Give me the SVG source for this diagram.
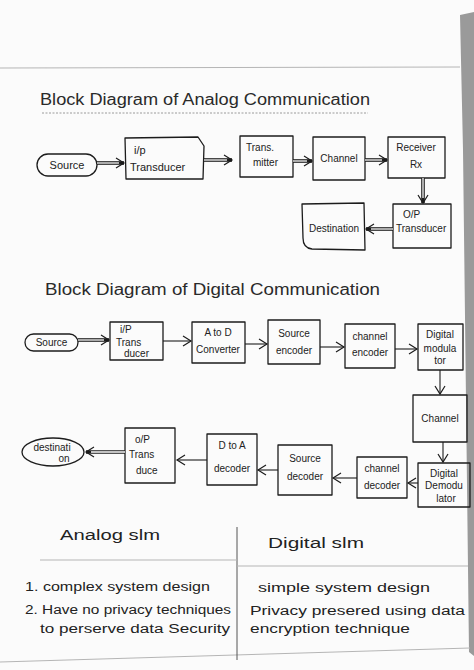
<svg xmlns="http://www.w3.org/2000/svg" width="474" height="670" viewBox="0 0 474 670">
<style>
.bx{fill:none;stroke:#1c1c1c;stroke-width:1.3;stroke-linejoin:round}
.t{font-family:"Liberation Sans","DejaVu Sans",sans-serif;fill:#222;font-size:10px}
.c{text-anchor:middle}
.ttl{font-size:16px;fill:#2a2a2a}
.tb{font-size:12px}
.ln{stroke:#1c1c1c;stroke-width:1.1;fill:none}
.dk{stroke:#1c1c1c;stroke-width:3.6;fill:none}
.wh{stroke:#fbfbfb;stroke-width:1.3;fill:none}
.rule{stroke:#b5b5b5;stroke-width:1;fill:none}
</style>
<defs>
<marker id="ah" markerUnits="userSpaceOnUse" markerWidth="12" markerHeight="12" refX="8" refY="5" orient="auto" overflow="visible">
<path d="M0,0 L8,5 L0,10" fill="none" stroke="#1c1c1c" stroke-width="1.2"/>
</marker>
</defs>
<rect x="0" y="0" width="474" height="670" fill="#fbfbfb"/>
<polygon points="460,15 474,12 474,656 469,652 466,400 463,150" fill="#9a9a9a"/>
<line class="rule" x1="0" y1="68" x2="460" y2="67"/>
<line class="rule" x1="0" y1="662" x2="470" y2="648" stroke="#999"/>

<text class="t ttl" x="40" y="105" textLength="330" lengthAdjust="spacingAndGlyphs">Block Diagram of Analog Communication</text>
<line x1="42" y1="113" x2="368" y2="113" stroke="#9a9a9a" stroke-width="1" stroke-dasharray="2,1.5"/>

<g id="a-source"><rect class="bx" x="37" y="154" width="60" height="22" rx="11"/><text class="t c" x="67" y="169" style="font-size:11px">Source</text></g>
<g id="a-ip-transducer"><path class="bx" d="M125,138 L198,137 L204,146 L203,179 L126,179 Z"/><text class="t" x="134" y="154" style="font-size:11px">i/p</text><text class="t" x="130" y="171" style="font-size:11px">Transducer</text></g>
<g id="a-transmitter"><rect class="bx" x="240" y="136" width="53" height="41"/><text class="t" x="246" y="151">Trans.</text><text class="t" x="253" y="166">mitter</text></g>
<g id="a-channel"><rect class="bx" x="313" y="137" width="52" height="43"/><text class="t c" x="339" y="162">Channel</text></g>
<g id="a-receiver"><rect class="bx" x="388" y="137" width="57" height="41"/><text class="t c" x="416" y="151">Receiver</text><text class="t c" x="416" y="168">Rx</text></g>
<g id="a-op-transducer"><rect class="bx" x="393" y="204" width="58" height="44"/><text class="t" x="403" y="218">O/P</text><text class="t" x="396" y="232">Transducer</text></g>
<g id="a-destination"><path class="bx" d="M302,204 L364,203 L365,250 L312,249 Q303,248 303,238 Z"/><text class="t" x="309" y="232">Destination</text></g>

<text class="t ttl" x="45" y="295" textLength="335" lengthAdjust="spacingAndGlyphs">Block Diagram of Digital Communication</text>

<g id="d-source"><rect class="bx" x="25" y="334" width="53" height="17" rx="8.5"/><text class="t c" x="51.5" y="346">Source</text></g>
<g id="d-ip-transducer"><rect class="bx" x="110" y="322" width="53" height="38"/><text class="t" x="120" y="333">i/P</text><text class="t" x="116" y="346">Trans</text><text class="t" x="124" y="357">ducer</text></g>
<g id="d-atod"><rect class="bx" x="192" y="322" width="53" height="41"/><text class="t c" x="218" y="336">A to D</text><text class="t c" x="218" y="353">Converter</text></g>
<g id="d-source-encoder"><rect class="bx" x="268" y="320" width="52" height="44"/><text class="t c" x="294" y="337">Source</text><text class="t c" x="294" y="354">encoder</text></g>
<g id="d-channel-encoder"><rect class="bx" x="345" y="324" width="50" height="44"/><text class="t c" x="370" y="340">channel</text><text class="t c" x="370" y="356">encoder</text></g>
<g id="d-modulator"><rect class="bx" x="418" y="324" width="45" height="46"/><text class="t c" x="440" y="338">Digital</text><text class="t c" x="440" y="352">modula</text><text class="t c" x="440" y="364">tor</text></g>
<g id="d-channel"><rect class="bx" x="413" y="395" width="54" height="47"/><text class="t c" x="440" y="422">Channel</text></g>
<g id="d-demodulator"><rect class="bx" x="418" y="463" width="52" height="44"/><text class="t c" x="444" y="477">Digital</text><text class="t c" x="444" y="489">Demodu</text><text class="t c" x="446" y="502">lator</text></g>
<g id="d-channel-decoder"><rect class="bx" x="357" y="457" width="50" height="41"/><text class="t c" x="382" y="472">channel</text><text class="t c" x="382" y="489">decoder</text></g>
<g id="d-source-decoder"><rect class="bx" x="278" y="445" width="54" height="50"/><text class="t c" x="305" y="462">Source</text><text class="t c" x="305" y="480">decoder</text></g>
<g id="d-dtoa"><rect class="bx" x="207" y="434" width="50" height="51"/><text class="t c" x="232" y="449">D to A</text><text class="t c" x="232" y="472">decoder</text></g>
<g id="d-op-transducer"><rect class="bx" x="125" y="428" width="50" height="55"/><text class="t" x="135" y="443">o/P</text><text class="t" x="129" y="458">Trans</text><text class="t" x="136" y="474">duce</text></g>
<g id="d-destination"><ellipse class="bx" cx="53" cy="452" rx="31" ry="14"/><text class="t c" x="52" y="451">destinati</text><text class="t c" x="64" y="462">on</text></g>

<g id="connectors">
<line class="dk" x1="97" y1="163" x2="124" y2="163" marker-end="url(#ah)"/><line class="wh" x1="97" y1="163" x2="119" y2="163"/>
<line class="dk" x1="204" y1="160" x2="232" y2="160" marker-end="url(#ah)"/><line class="wh" x1="204" y1="160" x2="227" y2="160"/>
<line class="dk" x1="293" y1="161" x2="312" y2="161" marker-end="url(#ah)"/><line class="wh" x1="293" y1="161" x2="307" y2="161"/>
<line class="dk" x1="365" y1="160" x2="387" y2="160" marker-end="url(#ah)"/><line class="wh" x1="365" y1="160" x2="382" y2="160"/>
<line class="dk" x1="423" y1="178" x2="423" y2="203" marker-end="url(#ah)"/><line class="wh" x1="423" y1="178" x2="423" y2="198"/>
<line class="dk" x1="393" y1="229" x2="366" y2="229" marker-end="url(#ah)"/><line class="wh" x1="393" y1="229" x2="371" y2="229"/>

<line class="dk" x1="78" y1="340" x2="109" y2="340" marker-end="url(#ah)"/><line class="wh" x1="78" y1="340" x2="104" y2="340"/>
<line class="ln" x1="163" y1="341" x2="191" y2="341" marker-end="url(#ah)"/>
<line class="ln" x1="245" y1="344" x2="267" y2="344" marker-end="url(#ah)"/>
<line class="ln" x1="320" y1="347" x2="344" y2="347" marker-end="url(#ah)"/>
<line class="ln" x1="395" y1="349" x2="417" y2="349" marker-end="url(#ah)"/>
<line class="ln" x1="440" y1="370" x2="440" y2="394" marker-end="url(#ah)"/>
<line class="ln" x1="443" y1="442" x2="443" y2="462" marker-end="url(#ah)"/>
<line class="ln" x1="418" y1="483" x2="408" y2="483" marker-end="url(#ah)"/>
<line class="ln" x1="357" y1="478" x2="333" y2="478" marker-end="url(#ah)"/>
<line class="ln" x1="278" y1="470" x2="258" y2="470" marker-end="url(#ah)"/>
<line class="ln" x1="207" y1="460" x2="177" y2="460" marker-end="url(#ah)"/>
<line class="dk" x1="125" y1="452" x2="86" y2="452" marker-end="url(#ah)"/><line class="wh" x1="125" y1="452" x2="91" y2="452"/>
</g>

<line x1="237" y1="527" x2="237" y2="660" stroke="#555" stroke-width="1"/>
<line class="rule" x1="40" y1="560" x2="237" y2="560"/>
<line class="rule" x1="237" y1="566" x2="468" y2="566"/>
<text class="t" x="60" y="540" style="font-size:14px" textLength="100" lengthAdjust="spacingAndGlyphs">Analog slm</text>
<text class="t" x="268" y="548" style="font-size:14px" textLength="96" lengthAdjust="spacingAndGlyphs">Digital slm</text>
<text class="t tb" x="25" y="591" textLength="185" lengthAdjust="spacingAndGlyphs">1. complex system design</text>
<text class="t tb" x="25" y="614" textLength="206" lengthAdjust="spacingAndGlyphs">2. Have no privacy techniques</text>
<text class="t tb" x="40" y="633" textLength="190" lengthAdjust="spacingAndGlyphs">to perserve data Security</text>
<text class="t tb" x="258" y="592" textLength="172" lengthAdjust="spacingAndGlyphs">simple system design</text>
<text class="t tb" x="250" y="615" textLength="215" lengthAdjust="spacingAndGlyphs">Privacy presered using data</text>
<text class="t tb" x="250" y="633" textLength="160" lengthAdjust="spacingAndGlyphs">encryption technique</text>
</svg>
